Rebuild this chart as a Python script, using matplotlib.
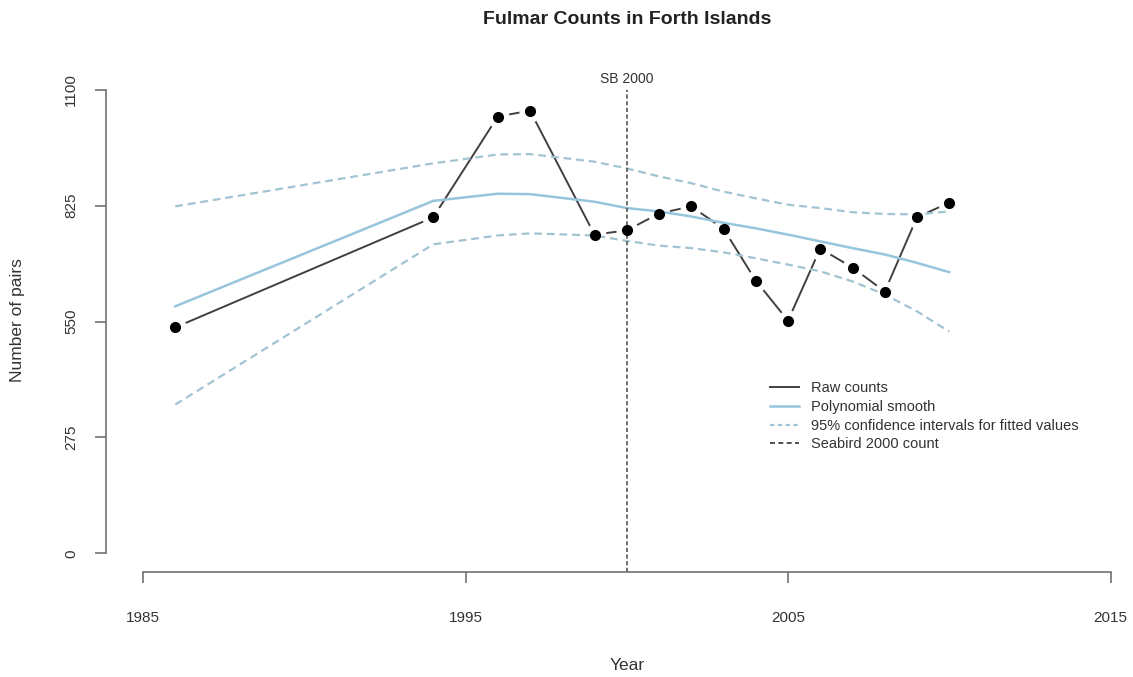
import matplotlib
matplotlib.use("Agg")
import matplotlib.pyplot as plt
from matplotlib.lines import Line2D

# raw fulmar counts (pairs)
years = [1986, 1994, 1996, 1997, 1999, 2000, 2001, 2002, 2003, 2004, 2005, 2006, 2007, 2008, 2009, 2010]
counts = [536, 797, 1036, 1050, 756, 766, 806, 823, 770, 647, 552, 723, 678, 621, 797, 832]

# polynomial smooth + 95% CI, evaluated at the survey years
smooth = [586, 836, 853, 852, 834, 819, 811, 799, 784, 771, 756, 740, 724, 709, 689, 667]
ci_upper = [823, 925, 946, 947, 929, 913, 894, 878, 858, 842, 827, 819, 809, 805, 804, 811]
ci_lower = [353, 733, 754, 759, 754, 741, 730, 724, 714, 700, 685, 669, 645, 614, 574, 526]

sb_year = 2000
xticks = [1985, 1995, 2005, 2015]
yticks = [0, 275, 550, 825, 1100]

plt.rcParams['font.family'] = ['Liberation Sans', 'DejaVu Sans']

W, H = 1133, 677
fig = plt.figure(figsize=(W / 100, H / 100), dpi=100)
ax = fig.add_axes([106 / W, 1 - 572 / H, (W - 106) / W, 501 / H])

raw_col = '#404040'
blue = '#97c5dd'
ci_col = '#a2c4d2'

# raw counts as R type="b": line with gaps around the points
ax.plot(years, counts, color=raw_col, lw=1.4, zorder=1)
ax.plot(years, counts, 'o', color='white', ms=16, mew=0, zorder=1.5)
ax.plot(years, smooth, color=blue, lw=1.8, zorder=2)
ax.plot(years, ci_upper, color=ci_col, lw=1.6, dashes=(3.5, 2.2), zorder=2)
ax.plot(years, ci_lower, color=ci_col, lw=1.6, dashes=(3.5, 2.2), zorder=2)
ax.axvline(sb_year, ymin=0, ymax=(1100 + 44) / 1188, color='#555555', lw=1.2,
           dashes=(2.5, 1.5), zorder=2)
ax.plot(years, counts, 'o', color='black', ms=7, zorder=3)

ax.text(sb_year, 1124, 'SB 2000', ha='center', va='center',
        fontsize=10, color='#333333')

ax.set_xlim(1985 - 37 / 32.25, 1985 + (W - 143) / 32.25)
ax.set_ylim(-44, 1144)
ax.set_xticks(xticks)
ax.set_yticks(yticks)
ax.set_yticklabels([str(v) for v in yticks], rotation=90, va='center')
ax.tick_params(direction='out', length=8, width=1.1, color='#666666',
               labelcolor='#333333', labelsize=11, pad=20)
ax.tick_params(axis='y', pad=12)
for s in ['top', 'right']:
    ax.spines[s].set_visible(False)
ax.spines['left'].set_bounds(0, 1100)
ax.spines['bottom'].set_bounds(1985, 2015)
for s in ['left', 'bottom']:
    ax.spines[s].set_color('#666666')
    ax.spines[s].set_linewidth(1.1)

fig.text(627 / W, 1 - 20 / H, 'Fulmar Counts in Forth Islands', ha='center', va='center',
         fontsize=14, fontweight='bold', color='#222222')
fig.text(627 / W, 1 - 665 / H, 'Year', ha='center', va='center', fontsize=12.5, color='#333333')
fig.text(18 / W, 1 - 320 / H, 'Number of pairs', ha='center', va='center', rotation=90,
         fontsize=12.5, color='#333333')

handles = [
    Line2D([], [], color=raw_col, lw=1.4),
    Line2D([], [], color=blue, lw=1.8),
    Line2D([], [], color=ci_col, lw=1.6, dashes=(2.0, 1.5)),
    Line2D([], [], color='#333333', lw=1.2, dashes=(3.0, 2.0)),
]
labels = ['Raw counts', 'Polynomial smooth', '95% confidence intervals for fitted values',
          'Seabird 2000 count']
leg = fig.legend(handles, labels, loc='upper left', bbox_to_anchor=(770 / W, 1 - 381 / H),
                 frameon=False, fontsize=10.5, handlelength=2.0, handletextpad=0.8,
                 labelspacing=0.33, borderpad=0, borderaxespad=0)
for t in leg.get_texts():
    t.set_color('#333333')

fig.savefig('out.png', dpi=100)
